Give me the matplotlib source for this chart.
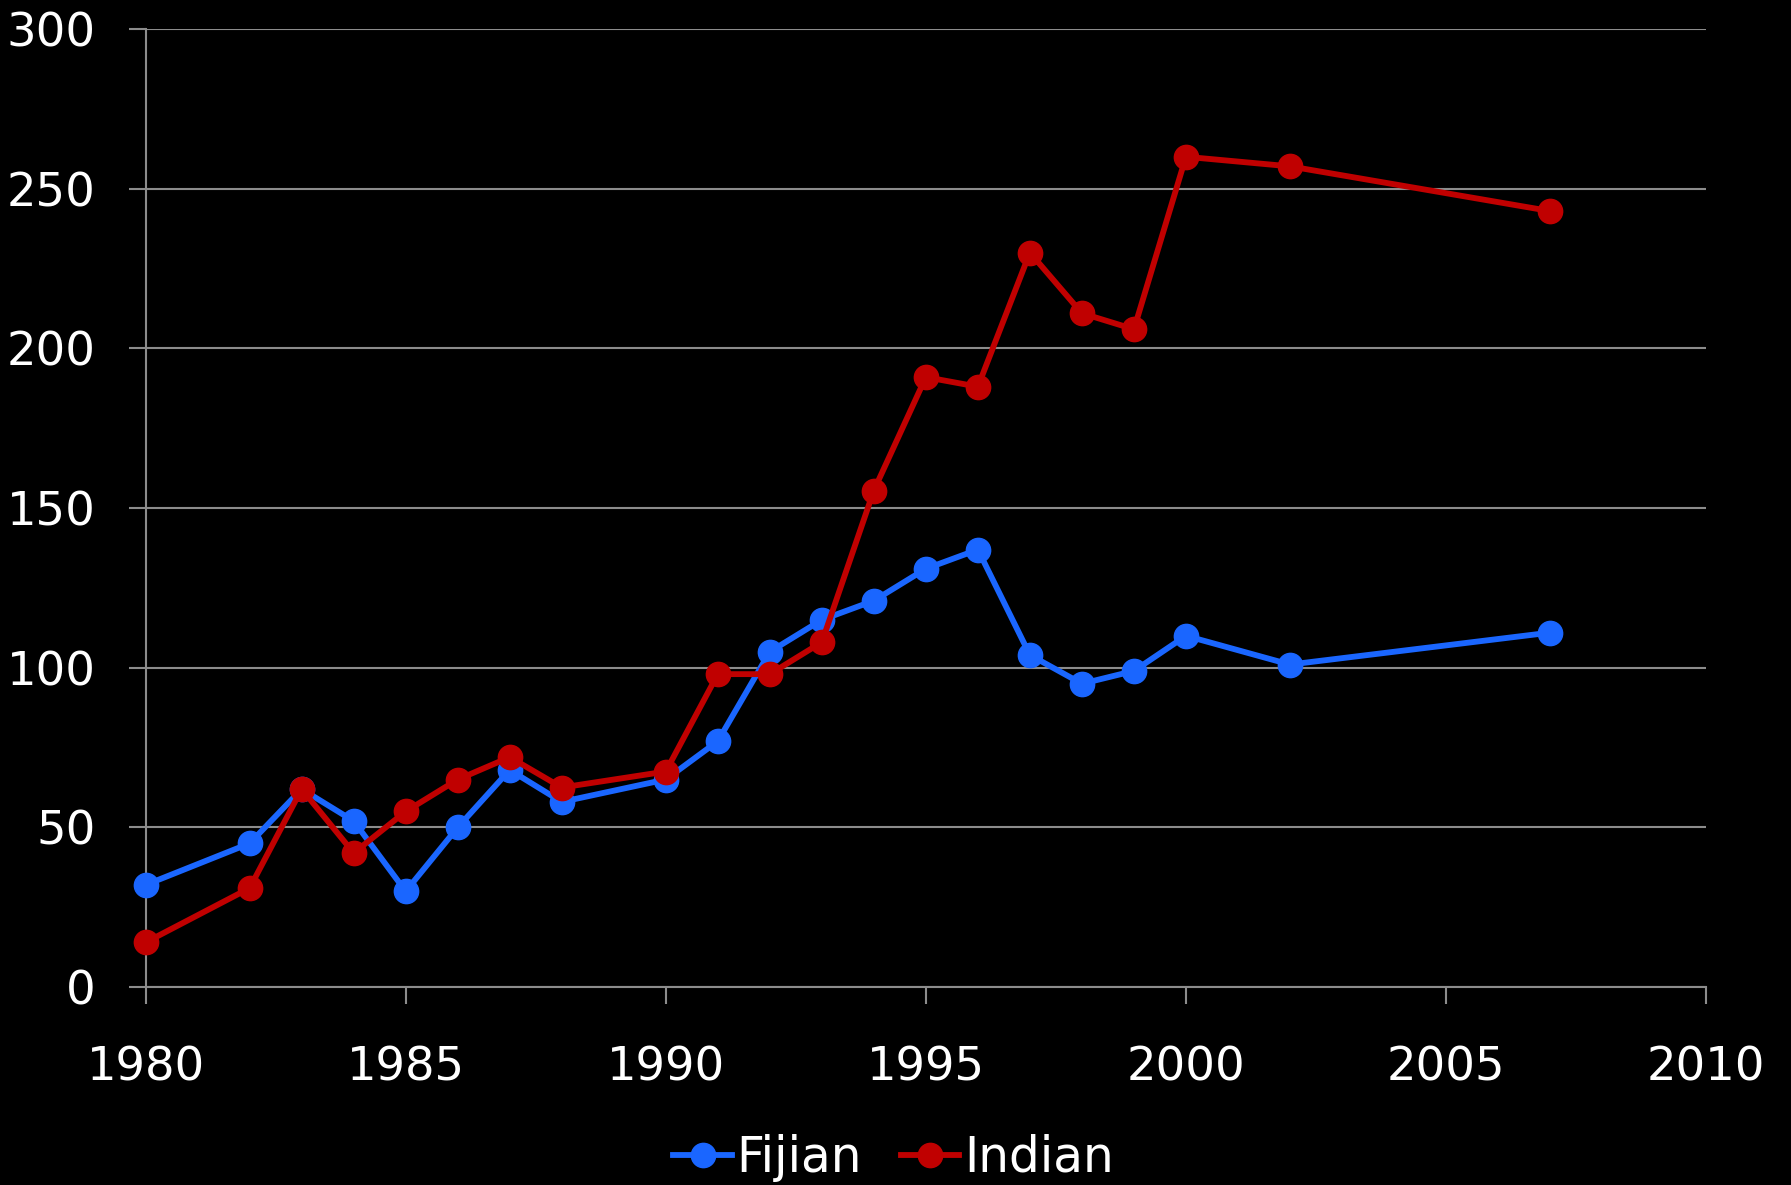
import matplotlib.pyplot as plt

years_fijian = [1980, 1982, 1983, 1984, 1985, 1986, 1987, 1988, 1990, 1991,
                1992, 1993, 1994, 1995, 1996, 1997, 1998, 1999, 2000, 2002, 2007]
fijian = [32, 45, 62, 52, 30, 50, 68, 58, 65, 77,
          105, 115, 121, 131, 137, 104, 95, 99, 110, 101, 111]

years_indian = [1980, 1982, 1983, 1984, 1985, 1986, 1987, 1988, 1990, 1991,
                1992, 1993, 1994, 1995, 1996, 1997, 1998, 1999, 2000, 2002, 2007]
indian = [14, 31, 62, 42, 55, 65, 72, 62.5, 67.5, 98,
          98, 108, 155.5, 191, 188, 230, 211, 206, 260, 257, 243]

x_ticks = [1980, 1985, 1990, 1995, 2000, 2005, 2010]
y_ticks = [0, 50, 100, 150, 200, 250, 300]

plt.rcParams['font.family'] = ['DejaVu Sans']

fig = plt.figure(figsize=(17.91, 11.85), dpi=100, facecolor='black')
ax = fig.add_axes([0.0813, 0.167, 0.8713, 0.8085], facecolor='black')

grey = '#8c8c8c'
ax.plot(years_fijian, fijian, color='#1a66ff', lw=4.2, marker='o', ms=17.5, label='Fijian',
        zorder=3, clip_on=False)
ax.plot(years_indian, indian, color='#c00000', lw=4.2, marker='o', ms=17.5, label='Indian',
        zorder=3, clip_on=False)

ax.set_xlim(1980, 2010)
ax.set_ylim(0, 300)
ax.set_xticks(x_ticks)
ax.set_yticks(y_ticks)
ax.yaxis.grid(True, color=grey, lw=1.5)
ax.set_axisbelow(True)

for s in ['top', 'right']:
    ax.spines[s].set_visible(False)
for s in ['left', 'bottom']:
    ax.spines[s].set_color(grey)
    ax.spines[s].set_linewidth(1.5)

ax.tick_params(axis='both', colors=grey, width=1.5, length=12, labelcolor='white', labelsize=33.5)
ax.tick_params(axis='x', pad=30)
ax.tick_params(axis='y', pad=24)

leg = fig.legend(loc='center', bbox_to_anchor=(0.499, 0.023), ncol=2, frameon=False,
                 fontsize=35, handlelength=1.2, handletextpad=0.1, columnspacing=0.8,
                 labelcolor='white')

fig.savefig('out.png', dpi=100, facecolor='black')
